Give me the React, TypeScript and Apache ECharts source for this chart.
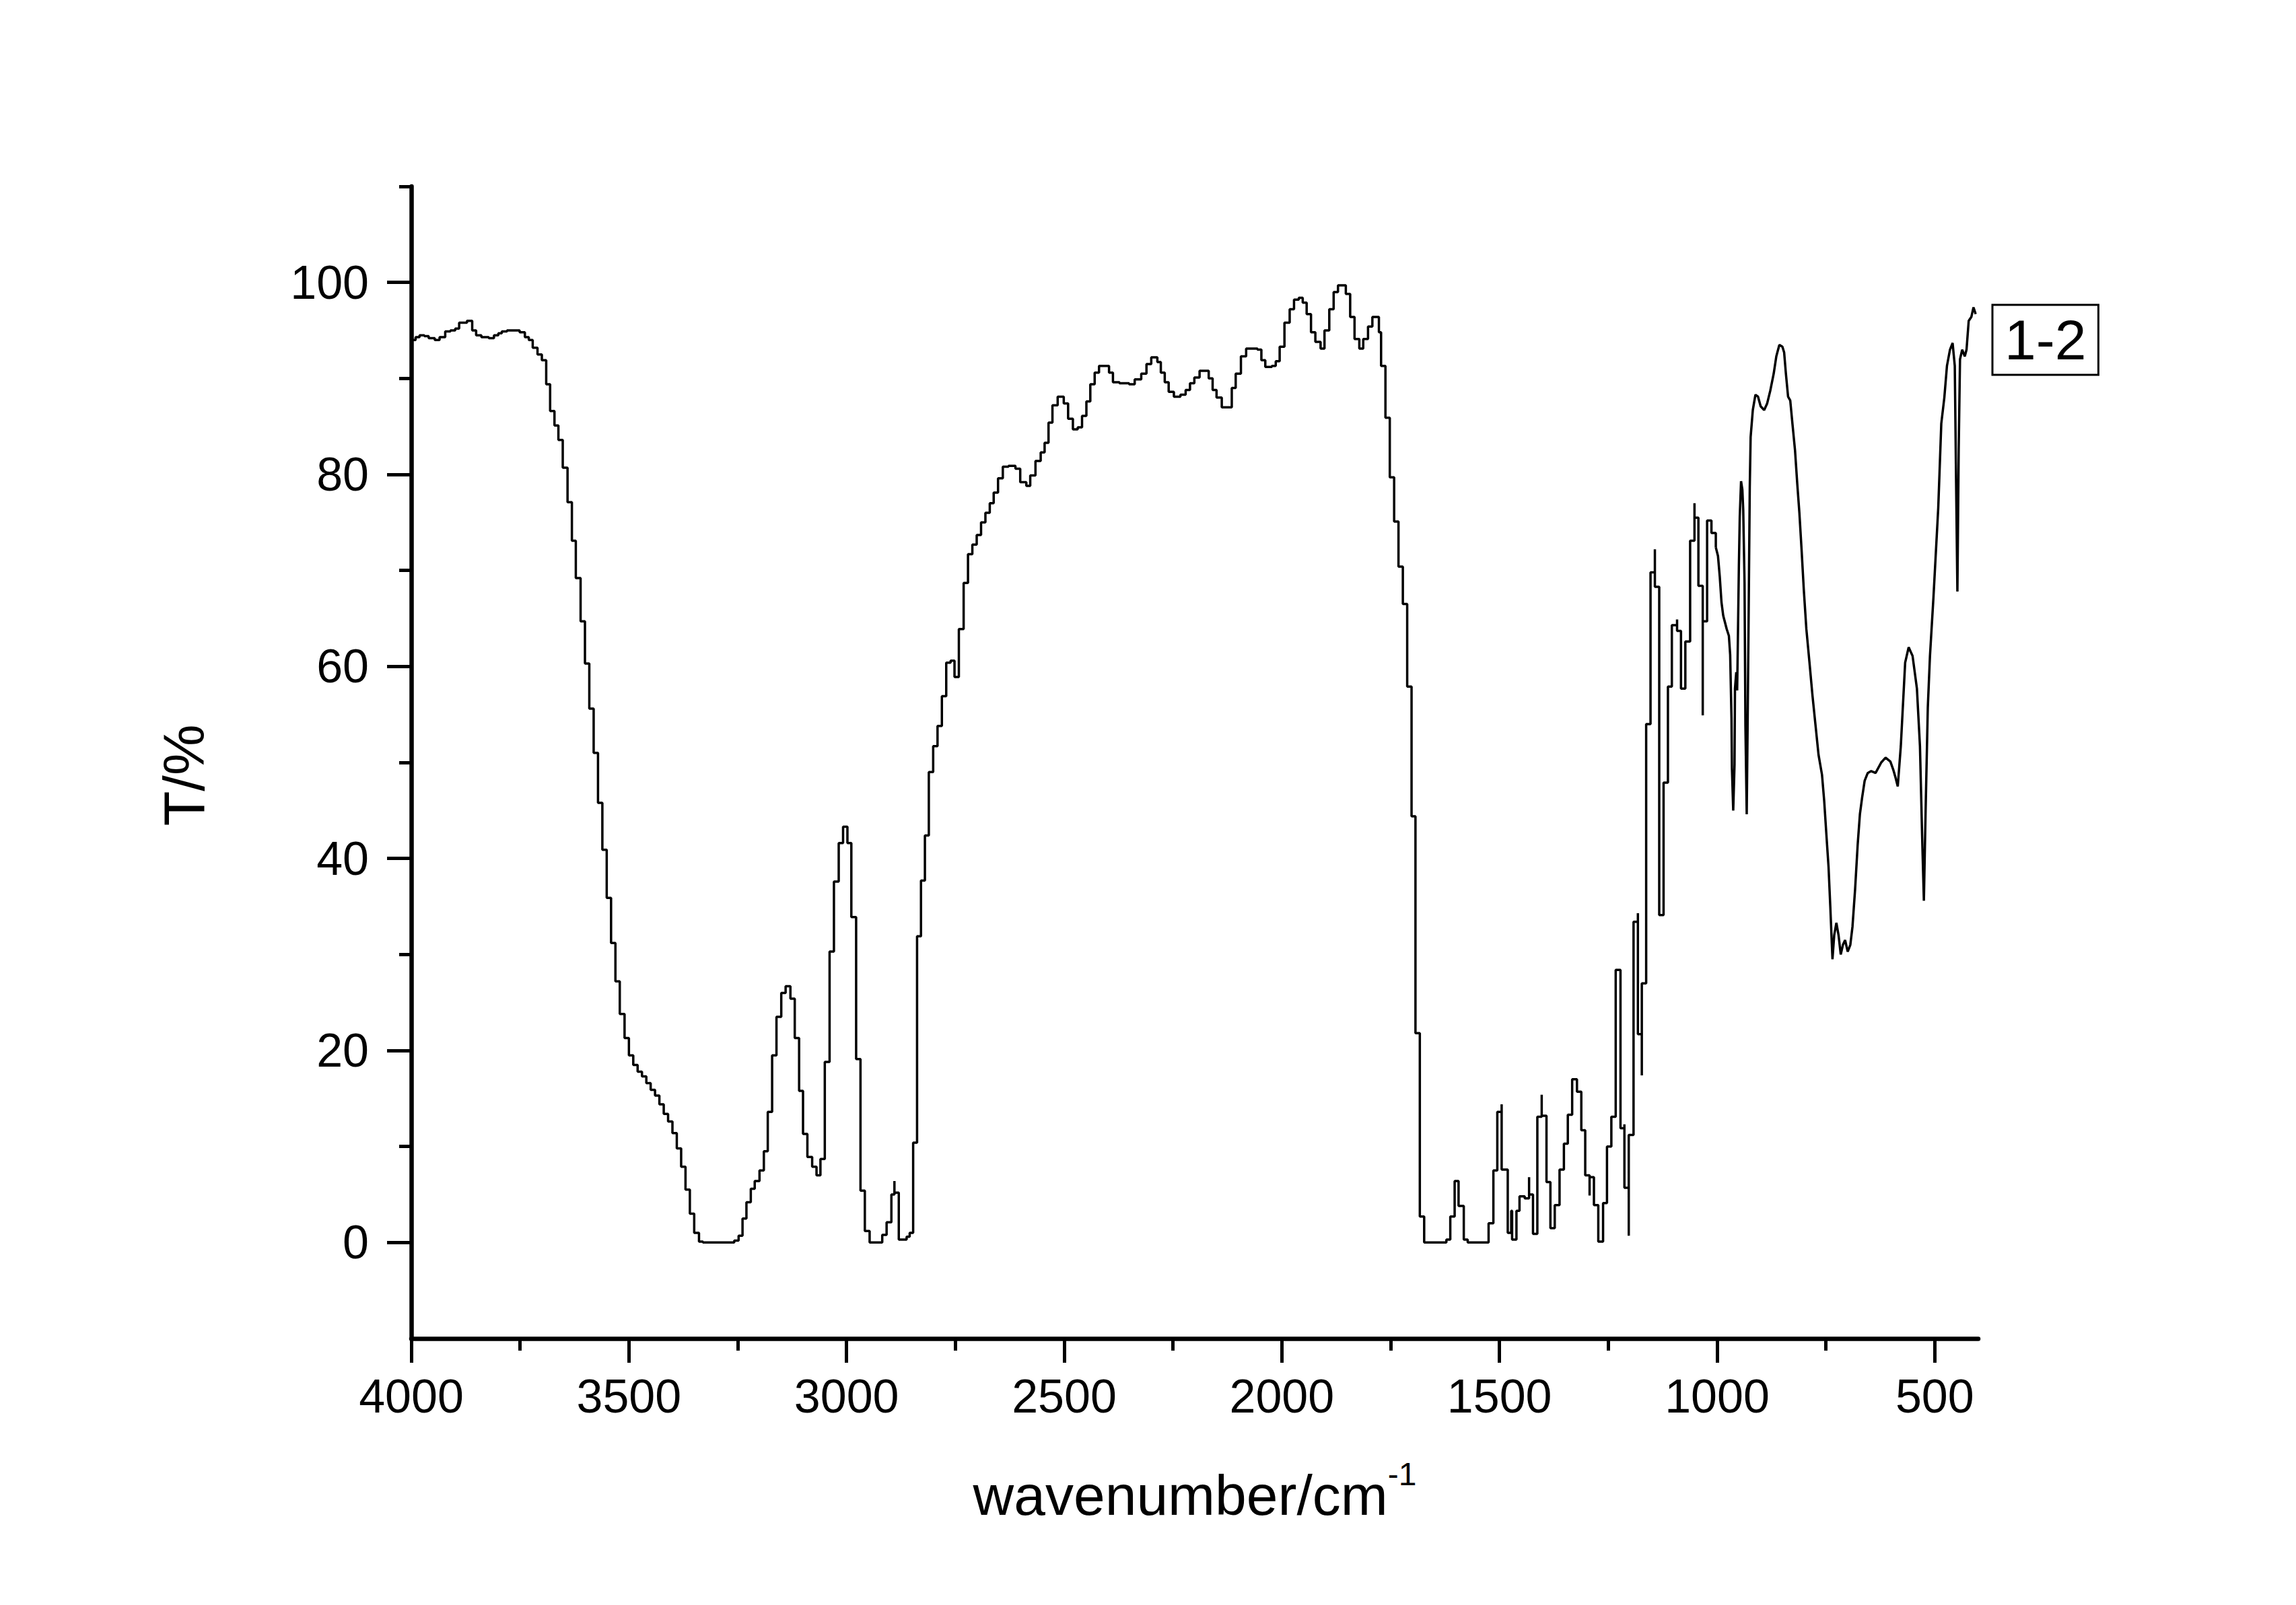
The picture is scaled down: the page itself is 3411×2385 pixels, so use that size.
import React, { useEffect, useRef } from 'react';
import * as echarts from 'echarts';

// Stepped (coarse-resolution) part of the spectrum, 4000 -> 1003 cm-1
const stepWavenumber = [
  4000, 3990, 3981, 3970, 3960, 3946, 3935, 3922, 3910, 3899, 3890, 3872, 3860, 3851, 3839, 3822,
  3810, 3800, 3792, 3780, 3762, 3751, 3739, 3730, 3721, 3710, 3700, 3690, 3681, 3671, 3662, 3652,
  3641, 3631, 3622, 3611, 3601, 3591, 3581, 3571, 3561, 3551, 3541, 3531, 3521, 3510, 3500, 3490,
  3480, 3470, 3460, 3450, 3440, 3430, 3420, 3410, 3400, 3390, 3380, 3370, 3360, 3350, 3339, 3330,
  3258, 3248, 3239, 3230, 3220, 3211, 3200, 3190, 3181, 3171, 3161, 3150, 3140, 3129, 3119, 3109,
  3100, 3090, 3079, 3069, 3060, 3050, 3039, 3029, 3018, 3008, 2998, 2989, 2978, 2968, 2958, 2947,
  2918, 2908, 2897, 2890, 2890, 2880, 2862, 2855, 2847, 2838, 2829, 2820, 2811, 2801, 2791, 2781,
  2771, 2761, 2752, 2742, 2731, 2721, 2711, 2701, 2691, 2681, 2671, 2662, 2652, 2641, 2628, 2612,
  2601, 2587, 2578, 2566, 2554, 2545, 2536, 2527, 2515, 2501, 2491, 2480, 2469, 2459, 2449, 2440,
  2430, 2420, 2397, 2388, 2373, 2351, 2338, 2323, 2311, 2300, 2286, 2278, 2269, 2260, 2248, 2233,
  2221, 2211, 2201, 2189, 2168, 2159, 2150, 2138, 2115, 2106, 2094, 2082, 2056, 2047, 2038, 2023,
  2014, 2005, 1994, 1982, 1972, 1961, 1952, 1943, 1933, 1923, 1911, 1902, 1891, 1881, 1871, 1853,
  1843, 1833, 1822, 1813, 1802, 1792, 1777, 1772, 1762, 1752, 1742, 1732, 1722, 1712, 1702, 1693,
  1683, 1673, 1622, 1613, 1603, 1594, 1582, 1573, 1525, 1514, 1505, 1495, 1495, 1481, 1473, 1471,
  1461, 1454, 1442, 1432, 1432, 1423, 1413, 1403, 1403, 1392, 1383, 1373, 1362, 1352, 1343, 1333,
  1322, 1312, 1303, 1293, 1293, 1283, 1273, 1262, 1253, 1243, 1233, 1222, 1213, 1213, 1203, 1203,
  1192, 1182, 1182, 1173, 1173, 1163, 1153, 1143, 1143, 1133, 1123, 1113, 1104, 1092, 1092, 1083,
  1073, 1062, 1052, 1052, 1043, 1033, 1033, 1023, 1013, 1003,
];
const stepTransmittance = [
  94.0, 94.3, 94.5, 94.4, 94.2, 94.0, 94.3, 94.9, 95.0, 95.2, 95.8, 96.0, 95.0, 94.5, 94.3, 94.2,
  94.5, 94.7, 94.9, 95.0, 95.0, 94.8, 94.3, 94.0, 93.2, 92.5, 91.9, 89.4, 86.6, 85.1, 83.6, 80.7,
  77.1, 73.1, 69.2, 64.7, 60.3, 55.6, 51.0, 45.8, 40.9, 35.9, 31.2, 27.2, 23.8, 21.3, 19.5, 18.5,
  17.8, 17.3, 16.6, 15.9, 15.3, 14.4, 13.4, 12.6, 11.4, 9.8, 7.9, 5.5, 3.0, 1.0, 0.1, 0.0,
  0.2, 0.7, 2.5, 4.2, 5.6, 6.4, 7.5, 9.5, 13.6, 19.5, 23.5, 26.0, 26.7, 25.4, 21.3, 15.8,
  11.3, 8.9, 7.9, 7.0, 8.7, 18.8, 30.3, 37.6, 41.6, 43.3, 41.6, 33.9, 19.1, 5.4, 1.2, 0.0,
  0.8, 2.1, 5.0, 6.4, 5.2, 0.3, 0.6, 1.0, 10.4, 31.9, 37.7, 42.4, 49.0, 51.7, 53.8, 56.9,
  60.4, 60.6, 58.9, 63.9, 68.7, 71.7, 72.7, 73.7, 75.0, 76.0, 77.0, 78.1, 79.6, 80.8, 80.9, 80.6,
  79.2, 78.8, 79.9, 81.4, 82.3, 83.3, 85.4, 87.2, 88.1, 87.4, 85.8, 84.7, 84.9, 86.1, 87.6, 89.4,
  90.6, 91.3, 90.6, 89.6, 89.5, 89.4, 89.9, 90.5, 91.5, 92.2, 91.7, 90.6, 89.6, 88.6, 88.1, 88.3,
  88.8, 89.5, 90.1, 90.8, 90.0, 88.8, 88.0, 87.0, 89.0, 90.5, 92.3, 93.1, 93.0, 91.9, 91.2, 91.3,
  91.8, 93.3, 95.8, 97.2, 98.2, 98.4, 97.9, 96.7, 94.8, 93.8, 93.1, 95.0, 97.2, 99.0, 99.7, 98.8,
  96.4, 94.1, 93.1, 94.1, 95.4, 96.4, 94.8, 91.3, 85.9, 79.7, 75.1, 70.4, 66.5, 57.9, 44.4, 21.8,
  2.7, 0.0, 0.3, 2.7, 6.4, 3.8, 0.3, 0.0, 2.0, 7.5, 13.6, 14.4, 7.6, 1.0, 3.3, 0.3,
  3.3, 4.8, 4.6, 6.8, 5.0, 0.9, 13.1, 15.4, 13.2, 6.3, 1.5, 3.9, 7.6, 10.3, 13.3, 17.0,
  15.7, 11.7, 7.0, 4.9, 6.8, 3.9, 0.1, 4.1, 10.0, 13.1, 28.4, 11.9, 12.3, 5.7, 0.7, 11.2,
  33.4, 34.3, 21.7, 17.4, 27.0, 54.0, 69.8, 72.2, 68.3, 34.1, 47.9, 57.9, 64.3, 64.9, 63.7, 57.7,
  62.6, 73.1, 77.0, 75.5, 68.4, 54.9, 64.7, 75.2, 73.9, 72.4,
];

// Fine-resolution (smooth) part of the spectrum, 1003 -> 406 cm-1
const smoothWavenumber = [
  1003, 998, 994, 990, 986, 978, 973, 970, 967, 966, 963, 960, 959, 956, 954, 953,
  950, 948, 945, 942, 940, 937, 935, 932, 930, 928, 925, 923, 918, 912, 906, 900,
  892, 885, 878, 870, 864, 857, 850, 846, 842, 837, 832, 827, 821, 816, 811, 806,
  801, 795, 788, 781, 774, 767, 759, 754, 749, 744, 740, 735, 731, 726, 721, 716,
  711, 706, 700, 694, 689, 683, 677, 672, 667, 661, 654, 646, 636, 623, 613, 602,
  595, 590, 585, 578, 568, 560, 551, 541, 534, 529, 525, 521, 516, 511, 503, 492,
  485, 478, 472, 465, 459, 454, 451, 448, 445, 442, 437, 431, 427, 422, 416, 411, 406,
];
const smoothTransmittance = [
  72.4, 71.5, 69.4, 66.7, 65.3, 63.9, 63.2, 61.2, 54.6, 49.4, 45.0, 49.8, 57.7, 59.4, 57.5, 60.5,
  70.5, 75.6, 79.3, 78.4, 76.3, 68.7, 53.9, 44.6, 53.6, 63.2, 78.7, 83.9, 86.7, 88.3, 88.1, 87.1,
  86.7, 87.4, 88.7, 90.5, 92.3, 93.5, 93.3, 92.7, 90.5, 88.1, 87.7, 85.3, 82.5, 79.1, 76.0, 72.2,
  68.1, 63.9, 60.5, 57.0, 53.9, 50.8, 48.7, 46.0, 42.5, 39.1, 35.0, 29.5, 32.0, 33.3, 32.0, 30.0,
  31.0, 31.5, 30.3, 31.0, 32.9, 36.8, 41.5, 44.6, 46.3, 48.1, 48.9, 49.1, 48.9, 50.0, 50.5, 50.1,
  49.2, 48.4, 47.5, 51.7, 60.4, 62.0, 61.1, 57.7, 51.7, 42.3, 35.6, 45.0, 55.7, 61.1, 67.2, 76.5,
  85.3, 88.0, 91.3, 93.0, 93.7, 91.3, 79.2, 67.8, 82.6, 92.0, 93.0, 92.3, 93.0, 96.0, 96.4, 97.4, 96.7,
];

const xMajorTicks = [500, 1000, 1500, 2000, 2500, 3000, 3500, 4000];
const xMinorTicks = [750, 1250, 1750, 2250, 2750, 3250, 3750];
const yMajorTicks = [0, 20, 40, 60, 80, 100];
const yMinorTicks = [10, 30, 50, 70, 90, 110];

const seriesName = '1-2';
const xTitle = 'wavenumber/cm';
const xTitleSup = '-1';
const yTitle = 'T/%';

export default function App() {
  const ref = useRef<HTMLDivElement>(null);

  useEffect(() => {
    if (!ref.current) return;
    const chart = echarts.init(ref.current, null, { renderer: 'svg' });
    const font = "'Liberation Sans', Arial, Helvetica, sans-serif";
    const black = '#000';
    const stepData = stepWavenumber.map((w, i) => [w, stepTransmittance[i]]);
    const smoothData = smoothWavenumber.map((w, i) => [w, smoothTransmittance[i]]);

    const axisLineStyle = { color: black, width: 6.5 };
    const tickStyle = { color: black, width: 5 };
    const plain = (v: number) => String(v);

    chart.setOption({
      animation: false,
      backgroundColor: '#fff',
      grid: {
        left: 611,
        right: 472,
        top: 277,
        bottom: 396,
        containLabel: false,
        outerBoundsMode: 'none',
      },
      legend: {
        show: true,
        left: 2960,
        top: 453,
        icon: 'none',
        itemWidth: 0,
        itemHeight: 0,
        itemGap: 0,
        padding: [10, 18, 10, 13],
        borderColor: black,
        borderWidth: 3,
        selectedMode: false,
        textStyle: { fontSize: 84, color: black, fontFamily: font },
        data: [seriesName],
      },
      xAxis: [
        {
          type: 'value',
          inverse: true,
          min: 400,
          max: 4000,
          position: 'bottom',
          axisLine: { show: true, onZero: false, lineStyle: axisLineStyle },
          axisTick: { show: true, inside: false, length: 36, customValues: xMajorTicks, lineStyle: tickStyle },
          axisLabel: {
            show: true,
            customValues: xMajorTicks,
            formatter: plain,
            margin: 51,
            color: black,
            fontSize: 70,
            fontFamily: font,
          },
          splitLine: { show: false },
          name: `{a|${xTitle}}{b|${xTitleSup}}`,
          nameLocation: 'middle',
          nameGap: 177,
          nameMoveOverlap: false,
          nameTextStyle: {
            rich: {
              a: { fontSize: 84, lineHeight: 98, fontFamily: font, color: black, verticalAlign: 'bottom' },
              b: { fontSize: 48, lineHeight: 48, fontFamily: font, color: black, verticalAlign: 'top' },
            },
          },
        },
        {
          type: 'value',
          inverse: true,
          min: 400,
          max: 4000,
          position: 'bottom',
          axisLine: { show: false, onZero: false },
          axisTick: { show: true, inside: false, length: 18, customValues: xMinorTicks, lineStyle: tickStyle },
          axisLabel: { show: false },
          splitLine: { show: false },
        },
      ],
      yAxis: [
        {
          type: 'value',
          min: -10,
          max: 110,
          position: 'left',
          axisLine: { show: true, onZero: false, lineStyle: axisLineStyle },
          axisTick: { show: true, inside: false, length: 36, customValues: yMajorTicks, lineStyle: tickStyle },
          axisLabel: {
            show: true,
            customValues: yMajorTicks,
            formatter: plain,
            margin: 63,
            color: black,
            fontSize: 70,
            fontFamily: font,
            padding: [0, 0, 14, 0],
          },
          splitLine: { show: false },
          name: yTitle,
          nameLocation: 'middle',
          nameGap: 295,
          nameMoveOverlap: false,
          nameTextStyle: { fontSize: 85, fontFamily: font, color: black, padding: [0, 38, 0, 0] },
        },
        {
          type: 'value',
          min: -10,
          max: 110,
          position: 'left',
          axisLine: { show: false, onZero: false },
          axisTick: { show: true, inside: false, length: 18, customValues: yMinorTicks, lineStyle: tickStyle },
          axisLabel: { show: false },
          splitLine: { show: false },
        },
      ],
      series: [
        {
          type: 'line',
          name: seriesName,
          xAxisIndex: 0,
          yAxisIndex: 0,
          data: stepData,
          step: 'end',
          symbol: 'none',
          showSymbol: false,
          silent: true,
          lineStyle: { color: black, width: 3.5 },
          itemStyle: { color: black },
        },
        {
          type: 'line',
          name: seriesName,
          xAxisIndex: 0,
          yAxisIndex: 0,
          data: smoothData,
          smooth: false,
          symbol: 'none',
          showSymbol: false,
          silent: true,
          lineStyle: { color: black, width: 3.5 },
          itemStyle: { color: black },
        },
      ],
    });

    return () => chart.dispose();
  }, []);

  return (
    <div
      ref={ref}
      style={{ position: 'absolute', left: 0, top: 0, width: 3411, height: 2385, background: '#fff' }}
    />
  );
}
